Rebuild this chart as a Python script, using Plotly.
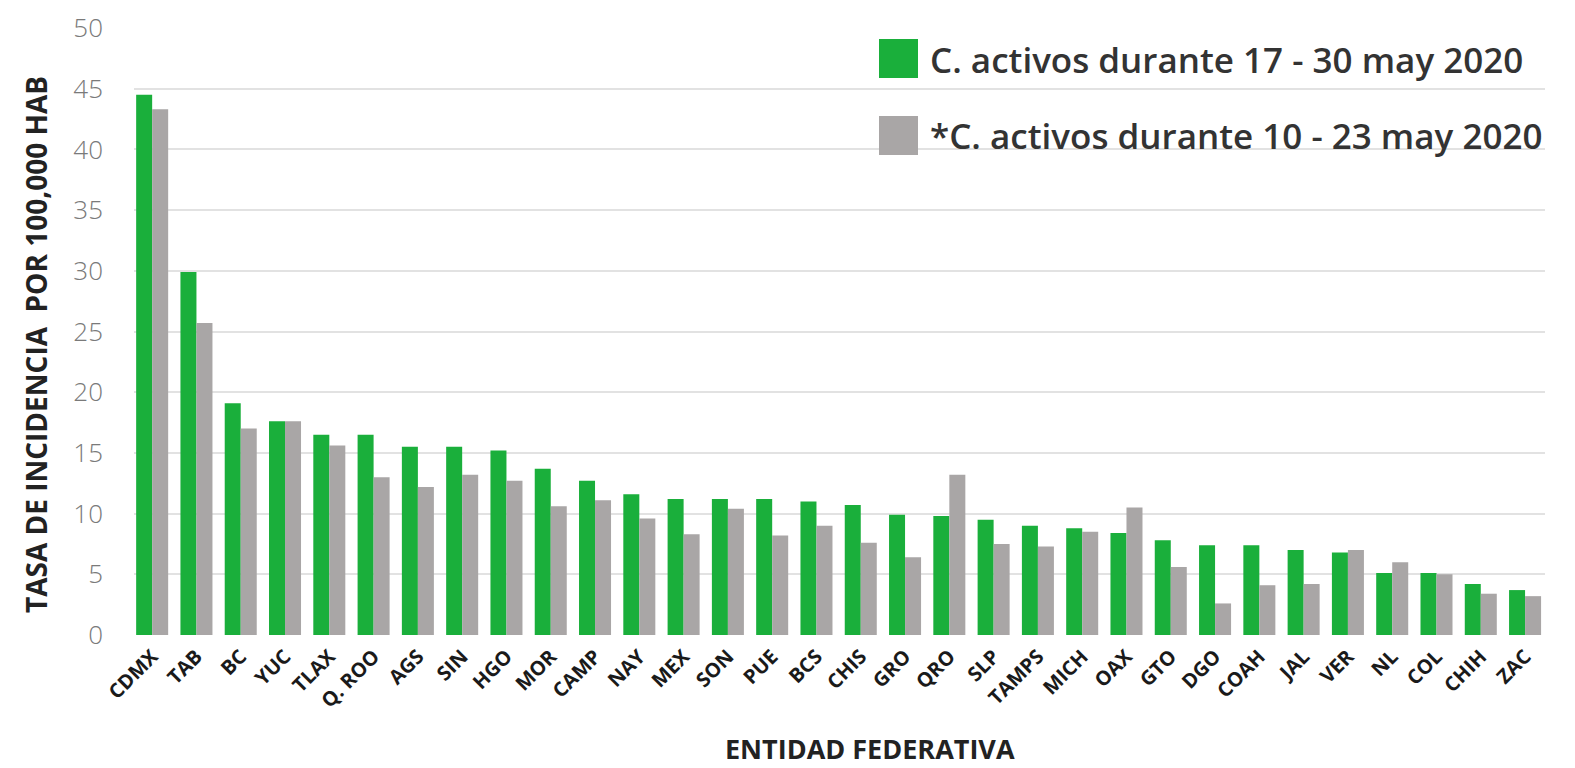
import plotly.graph_objects as go

states = ["CDMX", "TAB", "BC", "YUC", "TLAX", "Q. ROO", "AGS", "SIN", "HGO", "MOR",
          "CAMP", "NAY", "MEX", "SON", "PUE", "BCS", "CHIS", "GRO", "QRO", "SLP",
          "TAMPS", "MICH", "OAX", "GTO", "DGO", "COAH", "JAL", "VER", "NL", "COL",
          "CHIH", "ZAC"]
activos_17_30 = [44.5, 29.9, 19.1, 17.6, 16.5, 16.5, 15.5, 15.5, 15.2, 13.7,
                 12.7, 11.6, 11.2, 11.2, 11.2, 11.0, 10.7, 9.9, 9.8, 9.5,
                 9.0, 8.8, 8.4, 7.8, 7.4, 7.4, 7.0, 6.8, 5.1, 5.1,
                 4.2, 3.7]
activos_10_23 = [43.3, 25.7, 17.0, 17.6, 15.6, 13.0, 12.2, 13.2, 12.7, 10.6,
                 11.1, 9.6, 8.3, 10.4, 8.2, 9.0, 7.6, 6.4, 13.2, 7.5,
                 7.3, 8.5, 10.5, 5.6, 2.6, 4.1, 4.2, 7.0, 6.0, 5.0,
                 3.4, 3.2]
y_ticks = [0, 5, 10, 15, 20, 25, 30, 35, 40, 45, 50]
legend_names = ["C. activos durante 17 - 30 may 2020", "*C. activos durante 10 - 23 may 2020"]

GREEN = "#1aaf3b"
GRAY = "#a9a6a6"
FONT = "Open Sans, sans-serif"

W, H = 1575, 768
L, R, T, B = 126, 38, 20, 141
PW, PH = W - L - R, H - T - B


def px(x):
    return (x - L) / PW


def py(y):
    return (H - B - y) / PH


fig = go.Figure()
fig.add_trace(go.Bar(x=states, y=activos_17_30, name=legend_names[0],
                     marker=dict(color=GREEN, line=dict(width=0))))
fig.add_trace(go.Bar(x=states, y=activos_10_23, name=legend_names[1],
                     marker=dict(color=GRAY, line=dict(width=0))))

shapes = []
annotations = []
for i, (col, name) in enumerate(zip([GREEN, GRAY], legend_names)):
    top = 31 + i * 77
    shapes.append(dict(type="rect", xref="paper", yref="paper",
                       x0=px(871), x1=px(910), y0=py(top), y1=py(top + 39),
                       fillcolor=col, line=dict(width=0), layer="above"))
    annotations.append(dict(text=name, xref="paper", yref="paper",
                            x=px(920), y=py(top + 20), xanchor="left", yanchor="middle",
                            showarrow=False,
                            font=dict(family=FONT, size=35, color="#333333", weight=600)))

annotations.append(dict(text="TASA DE INCIDENCIA  POR 100,000 HAB", xref="paper", yref="paper",
                        x=px(28), y=py(337), textangle=-90, showarrow=False,
                        xanchor="center", yanchor="middle",
                        font=dict(family=FONT, size=28, color="#222222", weight=700)))
annotations.append(dict(text="ENTIDAD FEDERATIVA", xref="paper", yref="paper",
                        x=px(862), y=py(740), showarrow=False,
                        xanchor="center", yanchor="middle", borderpad=0,
                        font=dict(family=FONT, size=27, color="#222222", weight=700)))

fig.update_layout(
    width=W, height=H,
    margin=dict(l=L, r=R, t=T, b=B, autoexpand=False),
    paper_bgcolor="#ffffff", plot_bgcolor="#ffffff",
    barmode="group", bargap=0.277, bargroupgap=0,
    showlegend=False,
    shapes=shapes, annotations=annotations,
    font=dict(family=FONT),
)
fig.update_xaxes(range=[-0.41, len(states) - 0.55], tickangle=-45, showgrid=False,
                 showline=False, zeroline=False, ticks="",
                 tickfont=dict(family=FONT, size=20, color="#1a1a1a", weight=700),
                 ticklabelstandoff=5)
fig.update_yaxes(range=[0, 50], tickvals=y_ticks, showgrid=True, gridcolor="#e2e2e2",
                 gridwidth=2, zeroline=False, showline=False, ticks="",
                 tickfont=dict(family=FONT, size=26, color="#7a7a7a", weight=300),
                 ticklabelstandoff=30)

fig.write_html("out.html")
